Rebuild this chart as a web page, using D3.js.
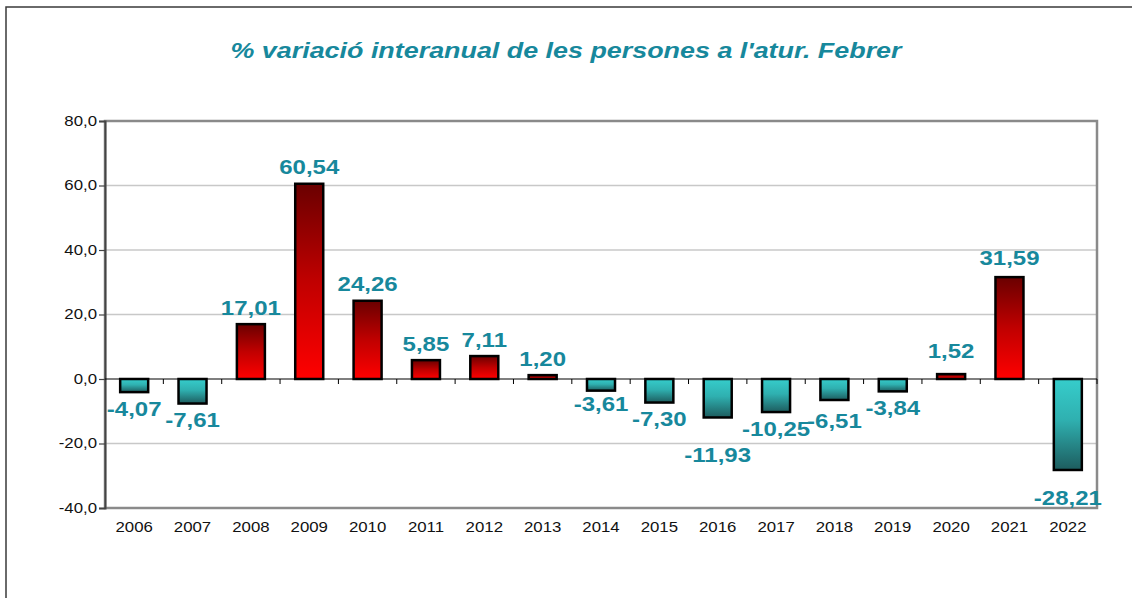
<!DOCTYPE html>
<html>
<head>
  <meta charset="utf-8">
  <title>% variació interanual de les persones a l'atur. Febrer</title>
  <style>
    body{
      background-color:#fff;
      margin: 0;
      padding: 0;
      overflow: hidden;
    }
    svg{
      display: block;
      font-family: Arial, "Liberation Sans", sans-serif;
    }
    .grid line{
      stroke: #c8c8c8;
      stroke-width: 1.5;
    }
    .tick-label{
      font-size: 14px;
      fill: #111;
    }
    .val{
      font-size: 20px;
      font-weight: bold;
      fill: #17889c;
    }
  </style>
</head>
<body>
<svg class="chart" width="1132" height="598"></svg>

<script src="https://d3js.org/d3.v7.min.js"></script>
<script>

// data
var years = ["2006","2007","2008","2009","2010","2011","2012","2013","2014","2015","2016","2017","2018","2019","2020","2021","2022"];
var variation = [-4.07, -7.61, 17.01, 60.54, 24.26, 5.85, 7.11, 1.20, -3.61, -7.30, -11.93, -10.25, -6.51, -3.84, 1.52, 31.59, -28.21];
var yTicks = [-40, -20, 0, 20, 40, 60, 80];

// manual label nudges (px), the original has a few labels moved by hand
var labelNudge = {"2014": -3, "2016": 21, "2018": 4, "2020": 7, "2021": 3, "2022": 11};

var plot = {left: 105, top: 121, right: 1097, bottom: 508};
var stretch = 1.2; // the original text is a bit wider than plain Arial

var svg = d3.select(".chart");

var defs = svg.append("defs");
var gPos = defs.append("linearGradient").attr("id", "gradPos")
    .attr("x1", 0).attr("y1", 0).attr("x2", 0).attr("y2", 1);
gPos.append("stop").attr("offset", "0%").attr("stop-color", "#6a0000");
gPos.append("stop").attr("offset", "50%").attr("stop-color", "#c00000");
gPos.append("stop").attr("offset", "100%").attr("stop-color", "#ff0000");
var gNeg = defs.append("linearGradient").attr("id", "gradNeg")
    .attr("x1", 0).attr("y1", 0).attr("x2", 0).attr("y2", 1);
gNeg.append("stop").attr("offset", "0%").attr("stop-color", "#36cdcb");
gNeg.append("stop").attr("offset", "45%").attr("stop-color", "#2fb0b0");
gNeg.append("stop").attr("offset", "100%").attr("stop-color", "#1d5c5e");

// outer frame
svg.append("rect")
    .attr("x", 6).attr("y", 7)
    .attr("width", 1200).attr("height", 700)
    .attr("fill", "none")
    .attr("stroke", "#3a3a3a")
    .attr("stroke-width", 1.5);

// title
svg.append("text")
    .attr("transform", "translate(566,58) scale(" + stretch + ",1)")
    .attr("text-anchor", "middle")
    .attr("font-size", 22.4)
    .attr("font-weight", "bold")
    .attr("font-style", "italic")
    .attr("fill", "#17889c")
    .text("% variació interanual de les persones a l'atur. Febrer");

var x = d3.scaleBand()
    .domain(years)
    .range([plot.left, plot.right])
    .padding(0);

var y = d3.scaleLinear()
    .domain([-40, 80])
    .range([plot.bottom, plot.top]);

// gridlines
svg.append("g").attr("class", "grid")
  .selectAll("line")
  .data(yTicks.filter(function(d){ return d !== 0 && d !== 80 && d !== -40; }))
  .enter().append("line")
    .attr("x1", plot.left).attr("x2", plot.right)
    .attr("y1", function(d){ return y(d); })
    .attr("y2", function(d){ return y(d); });

// plot area border
svg.append("rect")
    .attr("x", plot.left).attr("y", plot.top)
    .attr("width", plot.right - plot.left)
    .attr("height", plot.bottom - plot.top)
    .attr("fill", "none")
    .attr("stroke", "#8a8a8a")
    .attr("stroke-width", 2.5);

// y axis
var yAxis = svg.append("g")
    .attr("transform", "translate(" + plot.left + ",0)")
    .call(d3.axisLeft(y).tickValues(yTicks).tickSize(6).tickPadding(8)
      .tickFormat(function(d){ return d.toFixed(1).replace(".", ","); }));
yAxis.select(".domain").attr("stroke", "#444").attr("stroke-width", 2);
yAxis.selectAll(".tick line").attr("stroke", "#444").attr("stroke-width", 1.2);
yAxis.selectAll(".tick text")
    .attr("class", "tick-label")
    .attr("font-family", null).attr("font-size", null)
    .attr("fill", null)
    .attr("x", 0)
    .attr("transform", "translate(-8,0) scale(" + stretch + ",1)");

// zero line with category ticks
var xAxis = svg.append("g")
    .attr("transform", "translate(0," + y(0) + ")");
xAxis.append("line")
    .attr("x1", plot.left).attr("x2", plot.right)
    .attr("stroke", "#000").attr("stroke-width", 1.2);
xAxis.selectAll(".xt")
    .data(years.slice(1).concat(["end"]))
    .enter().append("line")
    .attr("class", "xt")
    .attr("x1", function(d, i){ return x(years[0]) + x.step() * (i + 1); })
    .attr("x2", function(d, i){ return x(years[0]) + x.step() * (i + 1); })
    .attr("y1", 0).attr("y2", 5)
    .attr("stroke", "#000").attr("stroke-width", 1);

// year labels under the plot
svg.append("g").selectAll("text")
    .data(years)
    .enter().append("text")
    .attr("class", "tick-label")
    .attr("text-anchor", "middle")
    .attr("transform", function(d){
      return "translate(" + (x(d) + x.bandwidth() / 2) + ",532) scale(" + stretch + ",1)";
    })
    .text(function(d){ return d; });

// bars
var barW = x.bandwidth() * 0.48;
svg.append("g").selectAll("rect")
    .data(variation)
    .enter().append("rect")
    .attr("x", function(d, i){ return x(years[i]) + (x.bandwidth() - barW) / 2; })
    .attr("width", barW)
    .attr("y", function(d){ return y(Math.max(0, d)); })
    .attr("height", function(d){ return Math.abs(y(d) - y(0)); })
    .attr("fill", function(d){ return d >= 0 ? "url(#gradPos)" : "url(#gradNeg)"; })
    .attr("stroke", "#000")
    .attr("stroke-width", 2.5);

// value labels
svg.append("g").selectAll("text")
    .data(variation)
    .enter().append("text")
    .attr("class", "val")
    .attr("text-anchor", "middle")
    .attr("transform", function(d, i){
      var gap = 9.5 + (labelNudge[years[i]] || 0);
      var ty = d >= 0 ? y(d) - gap : y(d) + gap + 14.3;
      return "translate(" + (x(years[i]) + x.bandwidth() / 2) + "," + ty + ") scale(" + stretch + ",1)";
    })
    .text(function(d){ return d.toFixed(2).replace(".", ","); });

</script>
</body>
</html>
